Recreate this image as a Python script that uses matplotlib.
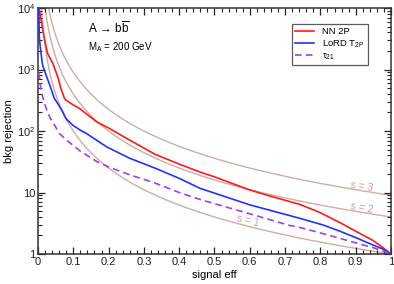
import numpy as np
import matplotlib
matplotlib.use("Agg")
import matplotlib.pyplot as plt
from matplotlib.ticker import FixedLocator, FixedFormatter, MultipleLocator, LogLocator, NullFormatter, FuncFormatter

plt.rcParams['font.family'] = ['Liberation Sans', 'DejaVu Sans']
plt.rcParams['mathtext.fontset'] = 'custom'
plt.rcParams['mathtext.rm'] = 'Liberation Sans'
plt.rcParams['mathtext.it'] = 'Liberation Sans'

# NN 2P
nn_eff = [0.003, 0.008, 0.018, 0.027, 0.042, 0.056, 0.065, 0.075, 0.079, 0.10, 0.117, 0.166, 0.20,
          0.26, 0.331, 0.40, 0.459, 0.50, 0.60, 0.65, 0.714, 0.742, 0.80, 0.855, 0.903, 0.949, 0.978, 1.0]
nn_rej = [10000, 6800, 3200, 1830, 1260, 760, 490, 340, 318, 265, 234, 141, 112,
          71, 42, 29, 21.5, 18, 11, 9.0, 7.1, 6.4, 4.7, 3.25, 2.3, 1.66, 1.26, 1.0]

# LoRD T2P
lord_eff = [0.002, 0.004, 0.008, 0.013, 0.023, 0.037, 0.046, 0.056, 0.07, 0.079, 0.098, 0.119, 0.136,
            0.176, 0.195, 0.26, 0.331, 0.40, 0.459, 0.60, 0.714, 0.742, 0.808, 0.855, 0.903, 0.949, 0.978, 1.0]
lord_rej = [10000, 3200, 1950, 1180, 810, 490, 340, 280, 205, 160, 125, 104, 92,
            65, 55, 36, 25, 17, 11.7, 6.3, 4.2, 3.8, 2.96, 2.35, 1.82, 1.4, 1.2, 1.0]

# tau21
tau_eff = [0.002, 0.004, 0.008, 0.0105, 0.023, 0.034, 0.042, 0.06, 0.081, 0.12, 0.166, 0.20, 0.26,
           0.331, 0.40, 0.459, 0.60, 0.714, 0.742, 0.80, 0.855, 0.903, 0.949, 0.978, 1.0]
tau_rej = [900, 760, 490, 410, 234, 165, 140, 92, 71, 47, 32, 26, 19.4,
           14.3, 10, 7.7, 4.5, 2.9, 2.7, 2.2, 1.8, 1.5, 1.27, 1.12, 1.0]

s_values = [1, 2, 3]
ytick_vals = [1, 10, 100, 1000, 10000]
ytick_labels = ['1', '10', '$10^{2}$', '$10^{3}$', '$10^{4}$']

fig = plt.figure(figsize=(3.94, 2.84), dpi=100)
ax = fig.add_axes([0.0964, 0.1056, 0.8960, 0.8662])

brown = '#d0aca8'
for s in s_values:
    e = np.linspace(s / 110.0, 1.0, 600)
    ax.plot(e, (s / e) ** 2, color=brown, lw=1.0, zorder=1)

ax.plot(nn_eff, nn_rej, color='#ff1a1a', lw=1.2, label='NN 2P', zorder=3)
ax.plot(lord_eff, lord_rej, color='#2233ff', lw=1.2, label=r'LoRD T$_{\mathregular{2P}}$', zorder=3)
ax.plot(tau_eff, tau_rej, color='#a040e8', lw=1.2, ls=(0, (4, 2.5)), label=r'$\tau_{21}$', zorder=3)

ax.set_yscale('log')
ax.set_xlim(0, 1)
ax.set_ylim(1, 1e4)

ax.yaxis.set_major_locator(FixedLocator(ytick_vals))
ax.yaxis.set_major_formatter(FixedFormatter(ytick_labels))
ax.yaxis.set_minor_locator(LogLocator(base=10, subs=np.arange(2, 10)))
ax.yaxis.set_minor_formatter(NullFormatter())
ax.xaxis.set_major_locator(MultipleLocator(0.1))
ax.xaxis.set_minor_locator(MultipleLocator(0.02))
ax.xaxis.set_major_formatter(FuncFormatter(lambda v, p: '0' if abs(v) < 1e-9 else ('1' if abs(v - 1) < 1e-9 else f'{v:.1f}')))

ax.tick_params(which='both', direction='in', top=True, right=True, labelsize=8, colors='#222222', pad=2)
ax.tick_params(which='major', length=5, width=0.9)
ax.tick_params(which='minor', length=3, width=0.8)
for sp in ax.spines.values():
    sp.set_linewidth(1.1)
    sp.set_color('#333333')

ax.set_xlabel('signal eff', fontsize=8, labelpad=2)
ax.set_ylabel('bkg rejection', fontsize=8, labelpad=2)

ax.text(0.142, 0.92, r'A$\,\rightarrow\,$b$\overline{\mathregular{b}}$', transform=ax.transAxes, fontsize=8.5, va='center')
ax.text(0.142, 0.84, r'M$_{\mathregular{A}}$ = 200 GeV', transform=ax.transAxes, fontsize=7, va='center')

lab_color = '#c4a2a0'
ax.text(0.918, 12.3, 's = 3', color=lab_color, fontsize=7.5, rotation=-8, ha='center', va='center')
ax.text(0.918, 5.6, 's = 2', color=lab_color, fontsize=7.5, rotation=-10, ha='center', va='center')
ax.text(0.595, 3.44, 's = 1', color=lab_color, fontsize=7.5, rotation=-14, ha='center', va='center')

leg = ax.legend(loc='upper left', bbox_to_anchor=(0.72, 0.935), fontsize=6.8, frameon=True, fancybox=False,
                edgecolor='#333333', handlelength=2.0, borderpad=0.35, labelspacing=0.2, handletextpad=0.8,
                borderaxespad=0)
leg.get_frame().set_linewidth(0.9)

fig.savefig('out.png', dpi=100)
